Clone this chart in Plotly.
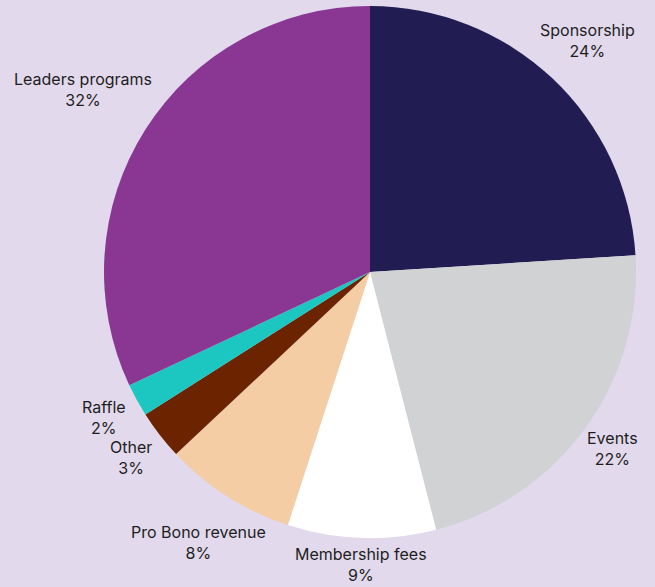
import math
import plotly.graph_objects as go

labels = ["Sponsorship", "Events", "Membership fees", "Pro Bono revenue", "Other", "Raffle", "Leaders programs"]
values = [24, 22, 9, 8, 3, 2, 32]
colors = ["#211C52", "#D1D2D4", "#FFFFFF", "#F4CDA5", "#6B2300", "#1CC7C1", "#8A3794"]

# layout constants (pixels)
W, H = 655, 587
CX, CY, R = 370, 272, 266
label_dist = [317, 300, 293, 320, 302, 303, 340]

fig = go.Figure(go.Pie(
    labels=labels,
    values=values,
    sort=False,
    direction="clockwise",
    rotation=0,
    marker=dict(colors=colors, line=dict(width=0)),
    textinfo="none",
    hoverinfo="label+percent",
    showlegend=False,
    domain=dict(x=[(CX - R) / W, (CX + R) / W], y=[1 - (CY + R) / H, 1 - (CY - R) / H]),
))

total = sum(values)
cum = 0
annotations = []
for lab, v, d in zip(labels, values, label_dist):
    mid = (cum + v / 2) / total * 2 * math.pi
    cum += v
    x = (CX + d * math.sin(mid)) / W
    y = 1 - (CY - d * math.cos(mid)) / H
    annotations.append(dict(
        x=x, y=y, xref="paper", yref="paper",
        text=f"{lab}<br>{v / total * 100:.0f}%",
        showarrow=False, xanchor="center", yanchor="middle",
        font=dict(family="Inter", size=16, color="#1E1E1E"),
    ))

fig.update_layout(
    width=W, height=H,
    margin=dict(l=0, r=0, t=0, b=0),
    paper_bgcolor="#E2D9EC",
    plot_bgcolor="#E2D9EC",
    annotations=annotations,
)
fig.write_html("out.html", config={"displayModeBar": False},
               post_script="document.body.style.margin='0';")
